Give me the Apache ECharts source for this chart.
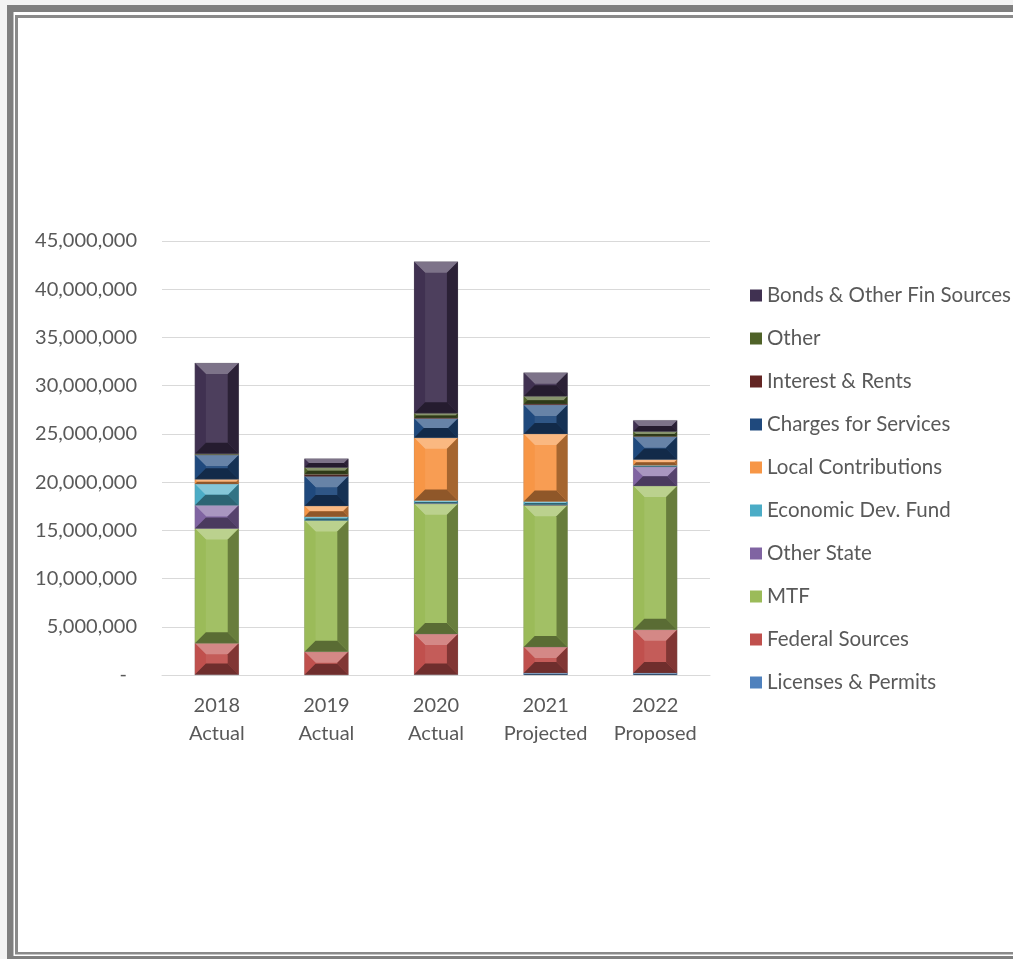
<!DOCTYPE html>
<html>
<head>
<meta charset="utf-8">
<script src="https://cdn.jsdelivr.net/npm/echarts@6/dist/echarts.min.js"></script>
<style>
  html, body { margin: 0; padding: 0; background: #f3f3f3; }
  #chart { width: 1013px; height: 959px; }
</style>
</head>
<body>
<div id="chart"></div>
<script>
// Revenue sources by fiscal year (stacked, bottom to top)
const categories = ['2018\nActual', '2019\nActual', '2020\nActual', '2021\nProjected', '2022\nProposed'];

const licensesPermits   = [   50000,    20000,    50000,   200000,   200000];
const federalSources    = [ 3250000,  2400000,  4200000,  2700000,  4500000];
const mtf               = [11900000, 13600000, 13500000, 14700000, 14900000];
const otherState        = [ 2400000,        0,    50000,    50000,  2000000];
const economicDevFund   = [ 2200000,   400000,   300000,   350000,   150000];
const localContrib      = [  500000,  1100000,  6500000,  7000000,   600000];
const chargesServices   = [ 2500000,  3100000,  2000000,  3000000,  2350000];
const interestRents     = [   50000,   200000,    50000,   100000,    50000];
const otherRevenue      = [  100000,   700000,   500000,   800000,   500000];
const bondsFinSources   = [ 9400000,   900000, 15700000,  2450000,  1150000];

const yTicks = { min: 0, max: 45000000, interval: 5000000 };

const seriesDefs = [
  { name: 'Licenses & Permits',        data: licensesPermits, color: '#4f81bd' },
  { name: 'Federal Sources',           data: federalSources,  color: '#c0504d' },
  { name: 'MTF',                       data: mtf,             color: '#9bbb59' },
  { name: 'Other State',               data: otherState,      color: '#8064a2' },
  { name: 'Economic Dev. Fund',        data: economicDevFund, color: '#4bacc6' },
  { name: 'Local Contributions',       data: localContrib,    color: '#f79646' },
  { name: 'Charges for Services',      data: chargesServices, color: '#1f497d' },
  { name: 'Interest & Rents',          data: interestRents,   color: '#632523' },
  { name: 'Other',                     data: otherRevenue,    color: '#4f6228' },
  { name: 'Bonds & Other Fin Sources', data: bondsFinSources, color: '#403151' }
];

// colour helpers for the bevelled faces
function hexToRgb(h) {
  const n = parseInt(h.slice(1), 16);
  return [(n >> 16) & 255, (n >> 8) & 255, n & 255];
}
function mix(h, target, t) {
  const c = hexToRgb(h);
  const r = c.map(v => Math.round(v + (target - v) * t));
  return 'rgb(' + r.join(',') + ')';
}
const lighten = (h, t) => mix(h, 255, t);
const darken = (h, t) => mix(h, 0, t);

const BAR_RATIO = 0.4;
const BEVEL = 11;

function makeRenderer(color) {
  return function (params, api) {
    const top = api.coord([api.value(0), api.value(2)]);
    const bottom = api.coord([api.value(0), api.value(1)]);
    const w = api.size([1, 0])[0] * BAR_RATIO;
    const x = top[0] - w / 2;
    const y = top[1];
    const h = bottom[1] - top[1];
    if (h <= 0) return null;
    const b = Math.min(BEVEL, h / 2, w / 2);
    const poly = (pts, fill) => ({ type: 'polygon', shape: { points: pts }, style: { fill: fill } });
    return {
      type: 'group',
      children: [
        { type: 'rect', shape: { x: x, y: y, width: w, height: h }, style: { fill: lighten(color, 0.07) } },
        poly([[x, y], [x + w, y], [x + w - b, y + b], [x + b, y + b]], lighten(color, 0.32)),
        poly([[x, y], [x + b, y + b], [x + b, y + h - b], [x, y + h]], color),
        poly([[x + w, y], [x + w - b, y + b], [x + w - b, y + h - b], [x + w, y + h]], darken(color, 0.33)),
        poly([[x, y + h], [x + b, y + h - b], [x + w - b, y + h - b], [x + w, y + h]], darken(color, 0.42)),
        { type: 'rect', shape: { x: x, y: y, width: w, height: h },
          style: { fill: 'none', stroke: 'rgba(120,120,120,0.35)', lineWidth: 0.6 } }
      ]
    };
  };
}

// running stack totals per category
const running = categories.map(() => 0);
const series = seriesDefs.map(def => {
  const data = def.data.map((v, i) => {
    const lo = running[i];
    running[i] += v;
    return [i, lo, running[i]];
  });
  return {
    type: 'custom',
    name: def.name,
    renderItem: makeRenderer(def.color),
    itemStyle: { color: def.color },
    encode: { x: 0, y: [1, 2] },
    data: data
  };
});

const FONT = 'Lato, "Liberation Sans", sans-serif';
const TEXT = '#595959';

const chart = echarts.init(document.getElementById('chart'), null, { renderer: 'canvas' });
chart.setOption({
  backgroundColor: '#f3f3f3',
  animation: false,
  graphic: [
    { type: 'rect', z: -10, shape: { x: 7, y: 5, width: 1100, height: 1000 }, style: { fill: '#7f7f7f' } },
    { type: 'rect', z: -9, shape: { x: 13.5, y: 12, width: 1100, height: 944 }, style: { fill: '#ffffff' } },
    { type: 'rect', z: -8, shape: { x: 15, y: 15, width: 1100, height: 939.5 }, style: { fill: '#8a8a8a' } },
    { type: 'rect', z: -7, shape: { x: 18, y: 18, width: 1100, height: 934 }, style: { fill: '#ffffff' } }
  ],
  grid: { left: 162, right: 303, top: 241, bottom: 284, containLabel: false },
  legend: {
    orient: 'vertical',
    left: 745,
    top: 280,
    icon: 'rect',
    itemWidth: 12,
    itemHeight: 12,
    itemGap: 22,
    data: seriesDefs.map(d => d.name).reverse(),
    textStyle: { color: TEXT, fontSize: 20.5, fontFamily: FONT, lineHeight: 20 }
  },
  xAxis: {
    type: 'category',
    data: categories,
    axisLine: { lineStyle: { color: '#d9d9d9', width: 1 } },
    axisTick: { show: false },
    axisLabel: { color: TEXT, fontSize: 20, fontFamily: FONT, lineHeight: 28, margin: 17 }
  },
  yAxis: {
    type: 'value',
    min: yTicks.min,
    max: yTicks.max,
    interval: yTicks.interval,
    axisLine: { show: false },
    axisTick: { show: false },
    splitLine: { lineStyle: { color: '#d9d9d9', width: 1 } },
    axisLabel: {
      color: TEXT, fontSize: 20, fontFamily: FONT, margin: 25,
      formatter: v => v === 0 ? '{d|-}' : v.toLocaleString('en-US'),
      rich: { d: { color: TEXT, fontSize: 20, fontFamily: FONT, padding: [0, 10, 0, 0] } }
    }
  },
  series: series
});
</script>
</body>
</html>
